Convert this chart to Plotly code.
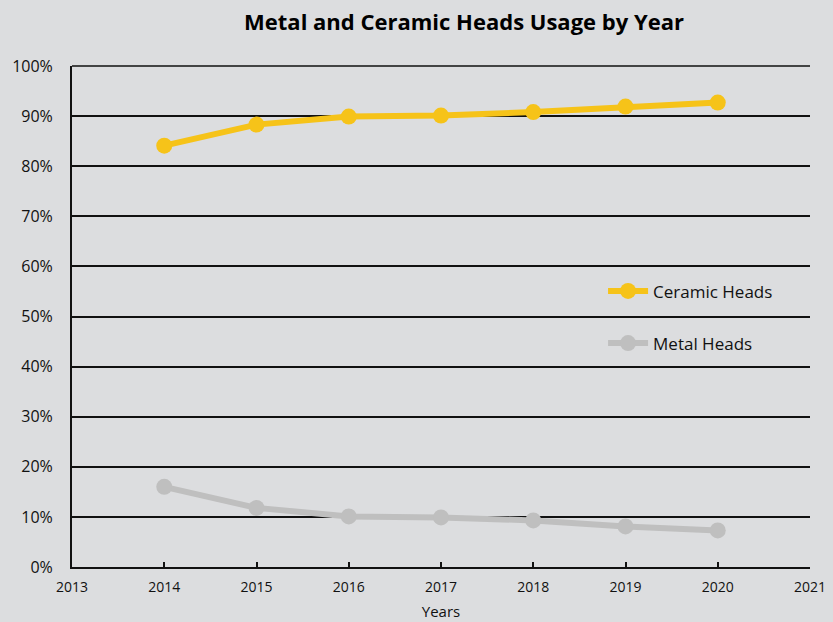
import plotly.graph_objects as go

years = [2014, 2015, 2016, 2017, 2018, 2019, 2020]
ceramic = [84.1, 88.3, 89.9, 90.1, 90.8, 91.9, 92.7]
metal = [16.0, 11.8, 10.1, 9.9, 9.3, 8.1, 7.3]
y_ticks = list(range(0, 101, 10))
y_tick_labels = [f"{v}%" for v in y_ticks]
x_ticks = list(range(2013, 2022))

BG = "#DCDDDF"
YELLOW = "#F6C319"
GRAY = "#BFBFBF"
INK = "#111111"

fig = go.Figure()
fig.add_trace(go.Scatter(
    x=years, y=ceramic, name="Ceramic Heads", mode="lines+markers",
    line=dict(color=YELLOW, width=6), marker=dict(color=YELLOW, size=16),
    legendgroup="c",
))
fig.add_trace(go.Scatter(
    x=years, y=metal, name="Metal Heads", mode="lines+markers",
    line=dict(color=GRAY, width=6), marker=dict(color=GRAY, size=16),
    legendgroup="m",
))

# top frame line (100% gridline at the plot edge)
fig.add_shape(type="line", xref="paper", yref="paper", x0=0, x1=1, y0=1, y1=1,
              line=dict(color=INK, width=1.5), layer="below")

fig.update_layout(
    width=833, height=622,
    paper_bgcolor=BG, plot_bgcolor=BG,
    margin=dict(l=72, r=23, t=66, b=55, autoexpand=False),
    font=dict(family="Open Sans, Noto Sans, sans-serif", size=14, color=INK),
    title=dict(
        text="<b>Metal and Ceramic Heads Usage by Year</b>",
        x=(464 - 72) / 738, xanchor="center", xref="paper",
        y=1 - 22 / 622, yanchor="middle", yref="container",
        font=dict(family="Open Sans, sans-serif", size=22, color="#000000"),
    ),
    legend=dict(
        x=0.7196, y=0.586, xanchor="left", yanchor="top",
        bgcolor="rgba(0,0,0,0)", font=dict(size=17, color=INK),
        tracegroupgap=27, traceorder="grouped",
        itemwidth=40,
    ),
    xaxis=dict(
        range=[2013, 2021], tickmode="array", tickvals=x_ticks,
        ticktext=[str(v) for v in x_ticks],
        showgrid=False, zeroline=False, automargin=False,
        showline=True, linecolor=INK, linewidth=2,
        ticks="inside", ticklen=5, tickcolor=INK, tickwidth=1.5,
        tickfont=dict(size=14, color=INK), ticklabelstandoff=6,
        title=dict(text="Years", font=dict(size=15, color=INK), standoff=12),
    ),
    yaxis=dict(
        range=[0, 100], tickmode="array", tickvals=y_ticks, ticktext=y_tick_labels,
        showgrid=True, gridcolor=INK, gridwidth=1.5, automargin=False,
        zeroline=False, showline=True, linecolor=INK, linewidth=2,
        ticks="", tickfont=dict(size=16, color=INK), ticklabelstandoff=14,
    ),
)

fig.write_html("out.html")
